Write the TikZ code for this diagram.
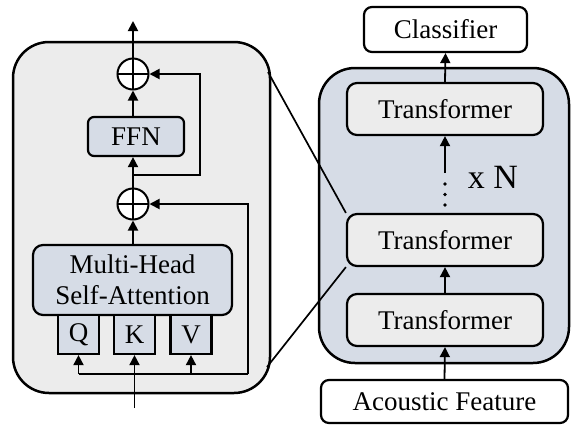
\documentclass[tikz,border=0pt]{standalone}
\usepackage{fontspec}
\setmainfont{Liberation Serif}
\usetikzlibrary{arrows.meta,calc}
\definecolor{panelgray}{HTML}{ECECEC}
\definecolor{bluegray}{HTML}{D6DCE6}
\begin{document}
\begin{tikzpicture}[x=1pt,y=-1pt,
  every node/.style={font=\fontsize{27}{31}\selectfont, inner sep=0pt},
  panel/.style={draw, line width=2.5pt, rounded corners=36pt},
  box/.style={draw, line width=2.2pt, rounded corners=#1},
  box/.default=9pt,
  qkv/.style={draw, line width=2.2pt, fill=bluegray, minimum width=41pt, minimum height=39pt},
  addop/.style={draw, circle, line width=2pt, fill=white, minimum size=31pt,
    path picture={\draw[line width=1.8pt] (path picture bounding box.north) -- (path picture bounding box.south)
      (path picture bounding box.west) -- (path picture bounding box.east);}},
  arr/.style={-{Triangle[length=10pt,width=10pt]}, line width=1.8pt},
  ln/.style={line width=1.8pt},
  zoomline/.style={line width=1.7pt}
]
\useasboundingbox (0,0) rectangle (582,432);

% ---------- left panel ----------
\node[panel, fill=panelgray, minimum width=257pt, minimum height=351pt] (lp) at (141.5,217.5) {};
\node[addop] (c1) at (133,74) {};
\node[addop] (c2) at (133,204) {};
\node[box=6pt, fill=bluegray, minimum width=96pt, minimum height=39pt] (ffn) at (136,136.5) {FFN};
\node[box=10pt, fill=bluegray, minimum width=199pt, minimum height=70pt, align=center] (mhsa) at (132.5,280) {Multi-Head\\Self-Attention};
\node[qkv] (q) at (78.5,334.5) {Q};
\node[qkv] (k) at (134.5,334.5) {K};
\node[qkv] (v) at (191,334.5) {V};

\coordinate (out) at (133,21);
\coordinate (s1) at (133,175);
\coordinate (s1r) at (200,175);
\coordinate (s2r) at (248,204);
\coordinate (bl) at (248,374);
\coordinate (kin) at (134.5,408);

\draw[arr] (c1.north) -- (out);
\draw[arr] (c1.south |- ffn.north) -- (c1.south);
\draw[arr] (c2.north) -- (c2.north |- ffn.south);
\draw[arr] (s1) -- (s1r) |- (c1.east);
\draw[arr] (c2.south |- mhsa.north) -- (c2.south);
\draw[arr] (bl) -- (s2r) -- (c2.east);
\draw[ln] (bl) -- (q.south |- bl);
\draw[arr] (q.south |- bl) -- (q.south);
\draw[arr] (v.south |- bl) -- (v.south);
\draw[arr] (kin) -- (k.south);

% ---------- right panel ----------
\node[panel, fill=bluegray, minimum width=250pt, minimum height=295pt] (rp) at (444,215.5) {};
\node[box=8pt, fill=white, minimum width=163pt, minimum height=45pt] (cls) at (445.5,29.5) {Classifier};
\node[box=10pt, fill=panelgray, minimum width=196pt, minimum height=52pt] (t1) at (445,109) {Transformer};
\node[box=10pt, fill=panelgray, minimum width=196pt, minimum height=52pt] (t2) at (445,240) {Transformer};
\node[box=10pt, fill=panelgray, minimum width=196pt, minimum height=52pt] (t3) at (445,320) {Transformer};
\node[box=8pt, fill=white, minimum width=247pt, minimum height=43pt] (af) at (444.5,401.5) {Acoustic Feature};
\node[font=\fontsize{34}{38}\selectfont] (xn) at (493,177) {x N};

\coordinate (dstart) at (445,173);
\draw[arr] (af.north) -- (t3.south);
\draw[arr] (t3.north) -- (t2.south);
\draw[arr] (dstart) -- (t1.south);
\draw[arr] (t1.north) -- (cls.south);
\foreach \yy in {184,194.5,205} \fill (445,\yy) circle (1.9pt);

% ---------- zoom lines ----------
\coordinate (z1) at (268,72);
\coordinate (z2) at (267,367);
\draw[zoomline] (z1) -- (t2.north west);
\draw[zoomline] (z2) -- (t2.south west);
\end{tikzpicture}
\end{document}
